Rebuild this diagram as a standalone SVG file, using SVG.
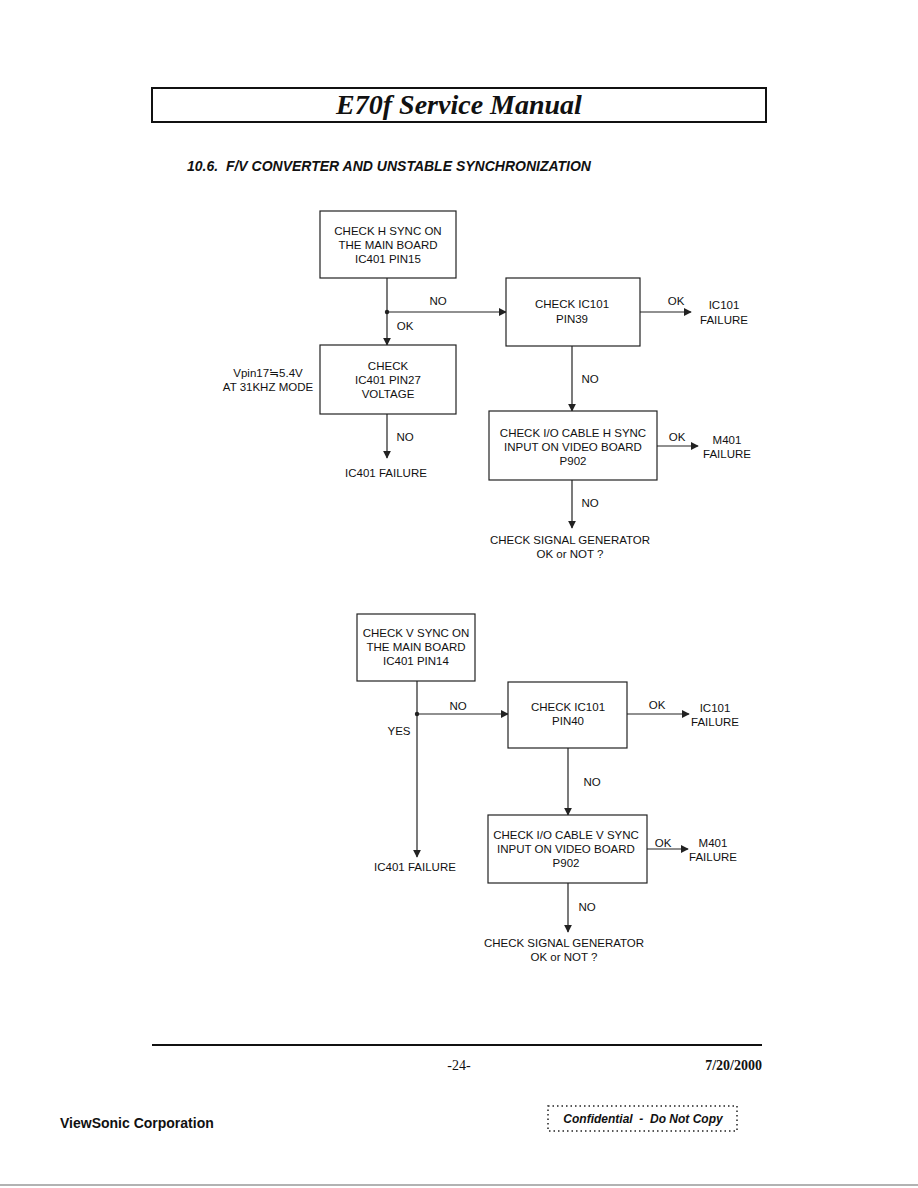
<svg xmlns="http://www.w3.org/2000/svg" width="918" height="1188" viewBox="0 0 918 1188">
<style>
.t{font-family:"Liberation Sans",Arial,sans-serif;font-size:11.5px;fill:#111;text-anchor:middle}
.box{fill:#fff;stroke:#222;stroke-width:1.2}
.ln{stroke:#222;stroke-width:1.2;fill:none}
</style>
<defs>
<marker id="ah" viewBox="0 0 10 10" refX="9" refY="5" markerWidth="8" markerHeight="8" markerUnits="userSpaceOnUse" orient="auto">
<path d="M0,0 L10,5 L0,10 z" fill="#222"/>
</marker>
</defs>
<rect width="918" height="1188" fill="#fff"/>
<g id="header">
<rect x="152" y="88" width="614" height="34" fill="none" stroke="#111" stroke-width="2"/>
<text x="459" y="114" font-family="Liberation Serif,'Times New Roman',serif" font-weight="bold" font-style="italic" font-size="28" text-anchor="middle" fill="#111">E70f Service Manual</text>
<text x="187" y="171" xml:space="preserve" font-family="Liberation Sans,Arial,sans-serif" font-weight="bold" font-style="italic" font-size="14" fill="#111">10.6.  F/V CONVERTER AND UNSTABLE SYNCHRONIZATION</text>
</g>
<g id="connectors">
<line class="ln" x1="387" y1="278" x2="387" y2="345" marker-end="url(#ah)"/>
<circle cx="387" cy="312" r="2.2" fill="#222"/>
<line class="ln" x1="387" y1="312" x2="506" y2="312" marker-end="url(#ah)"/>
<line class="ln" x1="640" y1="312" x2="691" y2="312" marker-end="url(#ah)"/>
<line class="ln" x1="387" y1="414" x2="387" y2="458" marker-end="url(#ah)"/>
<line class="ln" x1="572" y1="346" x2="572" y2="411" marker-end="url(#ah)"/>
<line class="ln" x1="657" y1="446" x2="698" y2="446" marker-end="url(#ah)"/>
<line class="ln" x1="572" y1="480" x2="572" y2="528" marker-end="url(#ah)"/>
<line class="ln" x1="417" y1="681" x2="417" y2="857" marker-end="url(#ah)"/>
<circle cx="417" cy="714" r="2.2" fill="#222"/>
<line class="ln" x1="417" y1="714" x2="508" y2="714" marker-end="url(#ah)"/>
<line class="ln" x1="627" y1="714" x2="689" y2="714" marker-end="url(#ah)"/>
<line class="ln" x1="568" y1="748" x2="568" y2="815" marker-end="url(#ah)"/>
<line class="ln" x1="647" y1="849" x2="688" y2="849" marker-end="url(#ah)"/>
<line class="ln" x1="568" y1="883" x2="568" y2="932" marker-end="url(#ah)"/>
<text class="t" x="438" y="305">NO</text>
<text class="t" x="405" y="330">OK</text>
<text class="t" x="676" y="305">OK</text>
<text class="t" x="405" y="441">NO</text>
<text class="t" x="590" y="383">NO</text>
<text class="t" x="677" y="441">OK</text>
<text class="t" x="590" y="507">NO</text>
<text class="t" x="458" y="710">NO</text>
<text class="t" x="399" y="735">YES</text>
<text class="t" x="657" y="709">OK</text>
<text class="t" x="592" y="786">NO</text>
<text class="t" x="663" y="847">OK</text>
<text class="t" x="587" y="911">NO</text>
</g>
<g id="n1"><rect class="box" x="320" y="211" width="136" height="67"/>
<text class="t" x="388" y="235">CHECK H SYNC ON</text><text class="t" x="388" y="249">THE MAIN BOARD</text><text class="t" x="388" y="263">IC401 PIN15</text></g>
<g id="n2"><rect class="box" x="506" y="278" width="134" height="68"/>
<text class="t" x="572" y="308">CHECK IC101</text><text class="t" x="572" y="323">PIN39</text></g>
<g id="n3"><text class="t" x="724" y="309">IC101</text><text class="t" x="724" y="324">FAILURE</text></g>
<g id="n4"><rect class="box" x="320" y="345" width="136" height="69"/>
<text class="t" x="388" y="370">CHECK</text><text class="t" x="388" y="384">IC401 PIN27</text><text class="t" x="388" y="398">VOLTAGE</text></g>
<g id="n5"><text class="t" x="268" y="377">Vpin17≒5.4V</text><text class="t" x="268" y="391">AT 31KHZ MODE</text></g>
<g id="n6"><text class="t" x="386" y="477">IC401 FAILURE</text></g>
<g id="n7"><rect class="box" x="489" y="411" width="168" height="69"/>
<text class="t" x="573" y="437">CHECK I/O CABLE H SYNC</text><text class="t" x="573" y="451">INPUT ON VIDEO BOARD</text><text class="t" x="573" y="465">P902</text></g>
<g id="n8"><text class="t" x="727" y="444">M401</text><text class="t" x="727" y="458">FAILURE</text></g>
<g id="n9"><text class="t" x="570" y="544">CHECK SIGNAL GENERATOR</text><text class="t" x="570" y="558">OK or NOT ?</text></g>
<g id="n10"><rect class="box" x="357" y="614" width="118" height="67"/>
<text class="t" x="416" y="637">CHECK V SYNC ON</text><text class="t" x="416" y="651">THE MAIN BOARD</text><text class="t" x="416" y="665">IC401 PIN14</text></g>
<g id="n11"><rect class="box" x="508" y="682" width="119" height="66"/>
<text class="t" x="568" y="711">CHECK IC101</text><text class="t" x="568" y="725">PIN40</text></g>
<g id="n12"><text class="t" x="715" y="712">IC101</text><text class="t" x="715" y="726">FAILURE</text></g>
<g id="n13"><text class="t" x="415" y="871">IC401 FAILURE</text></g>
<g id="n14"><rect class="box" x="488" y="815" width="159" height="68"/>
<text class="t" x="566" y="839">CHECK I/O CABLE V SYNC</text><text class="t" x="566" y="853">INPUT ON VIDEO BOARD</text><text class="t" x="566" y="867">P902</text></g>
<g id="n15"><text class="t" x="713" y="847">M401</text><text class="t" x="713" y="861">FAILURE</text></g>
<g id="n16"><text class="t" x="564" y="947">CHECK SIGNAL GENERATOR</text><text class="t" x="564" y="961">OK or NOT ?</text></g>
<g id="footer">
<line x1="152" y1="1045" x2="762" y2="1045" stroke="#111" stroke-width="2.2"/>
<text x="459" y="1070" font-family="Liberation Serif,'Times New Roman',serif" font-size="14" text-anchor="middle" fill="#111">-24-</text>
<text x="762" y="1070" font-family="Liberation Serif,'Times New Roman',serif" font-size="14" font-weight="bold" text-anchor="end" fill="#111">7/20/2000</text>
<text x="60" y="1128" font-family="Liberation Sans,Arial,sans-serif" font-size="14" font-weight="bold" fill="#111">ViewSonic Corporation</text>
<rect x="548" y="1106" width="189" height="25" fill="none" stroke="#222" stroke-width="1.5" stroke-dasharray="1.5,3"/>
<text x="643" y="1123" xml:space="preserve" font-family="Liberation Sans,Arial,sans-serif" font-size="12" font-weight="bold" font-style="italic" text-anchor="middle" fill="#111">Confidential  -  Do Not Copy</text>
<line x1="0" y1="1185" x2="918" y2="1185" stroke="#999" stroke-width="1.5"/>
</g>
</svg>
